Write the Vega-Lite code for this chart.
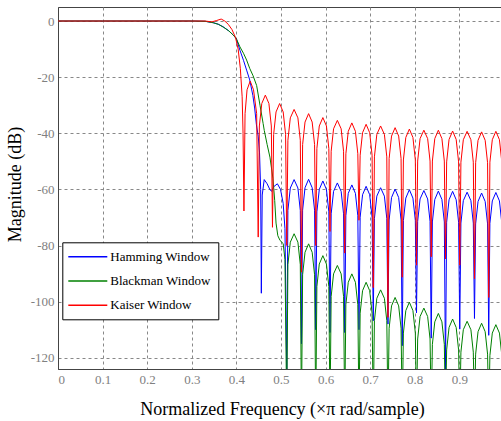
{
  "$schema": "https://vega.github.io/schema/vega-lite/v6.json",
  "width": 443,
  "height": 362,
  "autosize": {"type": "none"},
  "padding": {"left": 58, "top": 7, "right": 0, "bottom": 52},
  "config": {
    "view": {"stroke": "#444", "strokeWidth": 1},
    "font": "Liberation Serif",
    "axis": {
      "grid": true, "gridColor": "#888", "gridDash": [3, 3], "gridWidth": 1,
      "domainColor": "#444", "ticks": false,
      "labelColor": "#808080", "labelFont": "Liberation Serif", "labelFontSize": 13,
      "titleFont": "Liberation Serif", "titleFontSize": 18, "titleFontWeight": "normal", "titleColor": "#000"
    }
  },
  "datasets": {
    "hamming": [
      {"f":0,"db":0},{"f":0.1,"db":0},{"f":0.2,"db":0},{"f":0.3,"db":0},{"f":0.33,"db":-0.1},{"f":0.348,"db":-0.6},{"f":0.359,"db":-1.1},{"f":0.37,"db":-2},{"f":0.383,"db":-3.5},{"f":0.393,"db":-5},{"f":0.4,"db":-6.3},{"f":0.408,"db":-10.4},{"f":0.416,"db":-14},{"f":0.423,"db":-17.5},{"f":0.43,"db":-21},{"f":0.437,"db":-26.5},{"f":0.441,"db":-31},{"f":0.445,"db":-37},{"f":0.449,"db":-41},{"f":0.452,"db":-47},{"f":0.4545,"db":-60},{"f":0.456,"db":-97},
      {"f":0.458,"db":-62},{"f":0.4625,"db":-56.5},{"f":0.469,"db":-58},{"f":0.475,"db":-60},{"f":0.479,"db":-60.7},{"f":0.484,"db":-59},{"f":0.492,"db":-58},{"f":0.499,"db":-60},{"f":0.505,"db":-65},{"f":0.509,"db":-74},{"f":0.513,"db":-125},
      {"f":0.5156,"db":-67.5},{"f":0.521,"db":-59.5},{"f":0.5295,"db":-56.5},{"f":0.538,"db":-59.5},{"f":0.5434,"db":-67.5},{"f":0.546,"db":-115},
      {"f":0.5486,"db":-67.4},{"f":0.554,"db":-59.4},{"f":0.562,"db":-56.4},{"f":0.57,"db":-59.4},{"f":0.5754,"db":-67.4},{"f":0.578,"db":-110},
      {"f":0.5806,"db":-68},{"f":0.586,"db":-60},{"f":0.594,"db":-57},{"f":0.602,"db":-60},{"f":0.6074,"db":-68},{"f":0.61,"db":-111},
      {"f":0.6126,"db":-68.7},{"f":0.618,"db":-60.7},{"f":0.6265,"db":-57.7},{"f":0.635,"db":-60.7},{"f":0.6404,"db":-68.7},{"f":0.643,"db":-111},
      {"f":0.6456,"db":-69.4},{"f":0.651,"db":-61.4},{"f":0.659,"db":-58.4},{"f":0.667,"db":-61.4},{"f":0.6724,"db":-69.4},{"f":0.675,"db":-110},
      {"f":0.6776,"db":-69.9},{"f":0.683,"db":-61.9},{"f":0.691,"db":-58.9},{"f":0.699,"db":-61.9},{"f":0.7044,"db":-69.9},{"f":0.707,"db":-106.8},
      {"f":0.7096,"db":-70.4},{"f":0.715,"db":-62.4},{"f":0.7235,"db":-59.4},{"f":0.732,"db":-62.4},{"f":0.7374,"db":-70.4},{"f":0.74,"db":-108},
      {"f":0.7426,"db":-70.9},{"f":0.748,"db":-62.9},{"f":0.756,"db":-59.9},{"f":0.764,"db":-62.9},{"f":0.7694,"db":-70.9},{"f":0.772,"db":-115.7},
      {"f":0.7746,"db":-71.1},{"f":0.78,"db":-63.1},{"f":0.788,"db":-60.1},{"f":0.796,"db":-63.1},{"f":0.8014,"db":-71.1},{"f":0.804,"db":-104},
      {"f":0.8066,"db":-71.4},{"f":0.812,"db":-63.4},{"f":0.8205,"db":-60.4},{"f":0.829,"db":-63.4},{"f":0.8344,"db":-71.4},{"f":0.837,"db":-113},
      {"f":0.8396,"db":-71.6},{"f":0.845,"db":-63.6},{"f":0.853,"db":-60.6},{"f":0.861,"db":-63.6},{"f":0.8664,"db":-71.6},{"f":0.869,"db":-125},
      {"f":0.8716,"db":-71.7},{"f":0.877,"db":-63.7},{"f":0.885,"db":-60.7},{"f":0.893,"db":-63.7},{"f":0.8984,"db":-71.7},{"f":0.901,"db":-109.8},
      {"f":0.9036,"db":-72},{"f":0.909,"db":-64},{"f":0.9175,"db":-61},{"f":0.926,"db":-64},{"f":0.9314,"db":-72},{"f":0.934,"db":-106},
      {"f":0.9366,"db":-72.3},{"f":0.942,"db":-64.3},{"f":0.95,"db":-61.3},{"f":0.958,"db":-64.3},{"f":0.9634,"db":-72.3},{"f":0.966,"db":-112},
      {"f":0.9686,"db":-72.1},{"f":0.974,"db":-64.1},{"f":0.982,"db":-61.1},{"f":0.99,"db":-64.1},{"f":0.9954,"db":-72.1},{"f":0.998,"db":-110}
    ],
    "blackman": [
      {"f":0,"db":0},{"f":0.1,"db":0},{"f":0.2,"db":0},{"f":0.3,"db":0},{"f":0.33,"db":-0.1},{"f":0.348,"db":-0.6},{"f":0.36,"db":-1.2},{"f":0.372,"db":-2.3},{"f":0.383,"db":-3.5},{"f":0.393,"db":-5},{"f":0.4,"db":-6.3},{"f":0.408,"db":-9.2},{"f":0.416,"db":-11.5},{"f":0.423,"db":-13.9},{"f":0.43,"db":-16.9},{"f":0.4375,"db":-19.5},{"f":0.4455,"db":-23},{"f":0.453,"db":-30},{"f":0.46,"db":-36.5},{"f":0.4626,"db":-39},{"f":0.469,"db":-44},{"f":0.4753,"db":-48.5},{"f":0.482,"db":-56},{"f":0.486,"db":-64},{"f":0.489,"db":-72},{"f":0.493,"db":-76.5},{"f":0.498,"db":-78.2},{"f":0.505,"db":-79.3},{"f":0.509,"db":-85},{"f":0.513,"db":-140},
      {"f":0.5156,"db":-86.8},{"f":0.521,"db":-78.8},{"f":0.5295,"db":-75.8},{"f":0.538,"db":-78.8},{"f":0.5434,"db":-86.8},{"f":0.546,"db":-140},
      {"f":0.5486,"db":-90.4},{"f":0.554,"db":-82.4},{"f":0.562,"db":-79.4},{"f":0.57,"db":-82.4},{"f":0.5754,"db":-90.4},{"f":0.578,"db":-140},
      {"f":0.5806,"db":-94.6},{"f":0.586,"db":-86.6},{"f":0.594,"db":-83.6},{"f":0.602,"db":-86.6},{"f":0.6074,"db":-94.6},{"f":0.61,"db":-140},
      {"f":0.6126,"db":-98.1},{"f":0.618,"db":-90.1},{"f":0.6265,"db":-87.1},{"f":0.635,"db":-90.1},{"f":0.6404,"db":-98.1},{"f":0.643,"db":-140},
      {"f":0.6456,"db":-101.1},{"f":0.651,"db":-93.1},{"f":0.659,"db":-90.1},{"f":0.667,"db":-93.1},{"f":0.6724,"db":-101.1},{"f":0.675,"db":-140},
      {"f":0.6776,"db":-104.1},{"f":0.683,"db":-96.1},{"f":0.691,"db":-93.1},{"f":0.699,"db":-96.1},{"f":0.7044,"db":-104.1},{"f":0.707,"db":-140},
      {"f":0.7096,"db":-106.8},{"f":0.715,"db":-98.8},{"f":0.7235,"db":-95.8},{"f":0.732,"db":-98.8},{"f":0.7374,"db":-106.8},{"f":0.74,"db":-140},
      {"f":0.7426,"db":-109.5},{"f":0.748,"db":-101.5},{"f":0.756,"db":-98.5},{"f":0.764,"db":-101.5},{"f":0.7694,"db":-109.5},{"f":0.772,"db":-140},
      {"f":0.7746,"db":-111.2},{"f":0.78,"db":-103.2},{"f":0.788,"db":-100.2},{"f":0.796,"db":-103.2},{"f":0.8014,"db":-111.2},{"f":0.804,"db":-140},
      {"f":0.8066,"db":-113.3},{"f":0.812,"db":-105.3},{"f":0.8205,"db":-102.3},{"f":0.829,"db":-105.3},{"f":0.8344,"db":-113.3},{"f":0.837,"db":-140},
      {"f":0.8396,"db":-115.2},{"f":0.845,"db":-107.2},{"f":0.853,"db":-104.2},{"f":0.861,"db":-107.2},{"f":0.8664,"db":-115.2},{"f":0.869,"db":-140},
      {"f":0.8716,"db":-117.2},{"f":0.877,"db":-109.2},{"f":0.885,"db":-106.2},{"f":0.893,"db":-109.2},{"f":0.8984,"db":-117.2},{"f":0.901,"db":-140},
      {"f":0.9036,"db":-118},{"f":0.909,"db":-110},{"f":0.9175,"db":-107},{"f":0.926,"db":-110},{"f":0.9314,"db":-118},{"f":0.934,"db":-140},
      {"f":0.9366,"db":-118.7},{"f":0.942,"db":-110.7},{"f":0.95,"db":-107.7},{"f":0.958,"db":-110.7},{"f":0.9634,"db":-118.7},{"f":0.966,"db":-140},
      {"f":0.9686,"db":-119.2},{"f":0.974,"db":-111.2},{"f":0.982,"db":-108.2},{"f":0.99,"db":-111.2},{"f":0.9954,"db":-119.2},{"f":0.998,"db":-140}
    ],
    "kaiser": [
      {"f":0,"db":0},{"f":0.1,"db":0},{"f":0.2,"db":0},{"f":0.3,"db":0},{"f":0.33,"db":0},{"f":0.345,"db":-0.3},{"f":0.356,"db":0.2},{"f":0.366,"db":0.7},{"f":0.374,"db":0},{"f":0.382,"db":-1.2},{"f":0.39,"db":-3},{"f":0.398,"db":-5.8},{"f":0.404,"db":-10},{"f":0.409,"db":-17},{"f":0.413,"db":-27},{"f":0.415,"db":-40},{"f":0.417,"db":-67.7},
      {"f":0.4195,"db":-33},{"f":0.424,"db":-24.5},{"f":0.431,"db":-21.4},{"f":0.4385,"db":-24.5},{"f":0.4455,"db":-33},{"f":0.449,"db":-77},
      {"f":0.4516,"db":-37.4},{"f":0.457,"db":-29.4},{"f":0.465,"db":-26.4},{"f":0.473,"db":-29.4},{"f":0.4784,"db":-37.4},{"f":0.481,"db":-73.5},
      {"f":0.4836,"db":-40.4},{"f":0.489,"db":-32.4},{"f":0.497,"db":-29.4},{"f":0.505,"db":-32.4},{"f":0.5104,"db":-40.4},{"f":0.513,"db":-80},
      {"f":0.5156,"db":-42.5},{"f":0.521,"db":-34.5},{"f":0.5295,"db":-31.5},{"f":0.538,"db":-34.5},{"f":0.5434,"db":-42.5},{"f":0.546,"db":-89.5},
      {"f":0.5486,"db":-44},{"f":0.554,"db":-36},{"f":0.562,"db":-33},{"f":0.57,"db":-36},{"f":0.5754,"db":-44},{"f":0.578,"db":-80},
      {"f":0.5806,"db":-45.4},{"f":0.586,"db":-37.4},{"f":0.594,"db":-34.4},{"f":0.602,"db":-37.4},{"f":0.6074,"db":-45.4},{"f":0.61,"db":-75},
      {"f":0.6126,"db":-46.4},{"f":0.618,"db":-38.4},{"f":0.6265,"db":-35.4},{"f":0.635,"db":-38.4},{"f":0.6404,"db":-46.4},{"f":0.643,"db":-82.7},
      {"f":0.6456,"db":-47.3},{"f":0.651,"db":-39.3},{"f":0.659,"db":-36.3},{"f":0.667,"db":-39.3},{"f":0.6724,"db":-47.3},{"f":0.675,"db":-71},
      {"f":0.6776,"db":-47.8},{"f":0.683,"db":-39.8},{"f":0.691,"db":-36.8},{"f":0.699,"db":-39.8},{"f":0.7044,"db":-47.8},{"f":0.707,"db":-95},
      {"f":0.7096,"db":-48.4},{"f":0.715,"db":-40.4},{"f":0.7235,"db":-37.4},{"f":0.732,"db":-40.4},{"f":0.7374,"db":-48.4},{"f":0.74,"db":-105.6},
      {"f":0.7426,"db":-49},{"f":0.748,"db":-41},{"f":0.756,"db":-38},{"f":0.764,"db":-41},{"f":0.7694,"db":-49},{"f":0.772,"db":-91.3},
      {"f":0.7746,"db":-49.5},{"f":0.78,"db":-41.5},{"f":0.788,"db":-38.5},{"f":0.796,"db":-41.5},{"f":0.8014,"db":-49.5},{"f":0.804,"db":-87},
      {"f":0.8066,"db":-49.9},{"f":0.812,"db":-41.9},{"f":0.8205,"db":-38.9},{"f":0.829,"db":-41.9},{"f":0.8344,"db":-49.9},{"f":0.837,"db":-84},
      {"f":0.8396,"db":-49.9},{"f":0.845,"db":-41.9},{"f":0.853,"db":-38.9},{"f":0.861,"db":-41.9},{"f":0.8664,"db":-49.9},{"f":0.869,"db":-84.8},
      {"f":0.8716,"db":-50.2},{"f":0.877,"db":-42.2},{"f":0.885,"db":-39.2},{"f":0.893,"db":-42.2},{"f":0.8984,"db":-50.2},{"f":0.901,"db":-87},
      {"f":0.9036,"db":-50.3},{"f":0.909,"db":-42.3},{"f":0.9175,"db":-39.3},{"f":0.926,"db":-42.3},{"f":0.9314,"db":-50.3},{"f":0.934,"db":-91.8},
      {"f":0.9366,"db":-50.5},{"f":0.942,"db":-42.5},{"f":0.95,"db":-39.5},{"f":0.958,"db":-42.5},{"f":0.9634,"db":-50.5},{"f":0.966,"db":-98.5},
      {"f":0.9686,"db":-50.3},{"f":0.974,"db":-42.3},{"f":0.982,"db":-39.3},{"f":0.99,"db":-42.3},{"f":0.9954,"db":-50.3},{"f":0.998,"db":-100}
    ]
  },
  "encoding": {
    "x": {
      "field": "f", "type": "quantitative",
      "scale": {"domain": [0, 0.9935], "nice": false, "zero": false},
      "axis": {"values": [0, 0.1, 0.2, 0.3, 0.4, 0.5, 0.6, 0.7, 0.8, 0.9], "format": ".1~f", "labelPadding": 4,
               "labelFont": "Liberation Serif", "titleFont": "Liberation Serif",
               "title": "Normalized Frequency (\u00d7\u03c0 rad/sample)", "titleX": 224, "titleY": 40, "titleBaseline": "middle"}
    },
    "y": {
      "field": "db", "type": "quantitative",
      "scale": {"domain": [-124, 5], "nice": false, "zero": false},
      "axis": {"values": [-120, -100, -80, -60, -40, -20, 0], "labelExpr": "'' + datum.value", "labelPadding": 4,
               "labelFont": "Liberation Serif", "titleFont": "Liberation Serif",
               "title": "Magnitude (dB)", "titleX": -43, "titleY": 177, "titleBaseline": "middle", "titleAlign": "center"}
    }
  },
  "layer": [
    {
      "data": {"name": "hamming"},
      "mark": {"type": "line", "strokeWidth": 1, "clip": true},
      "encoding": {
        "color": {
          "datum": "Hamming Window", "type": "nominal",
          "scale": {"domain": ["Hamming Window", "Blackman Window", "Kaiser Window"], "range": ["#0000ff", "#008000", "#ff0000"]},
          "legend": {
            "orient": "none", "legendX": 4.3, "legendY": 235.3, "title": null,
            "symbolType": "M-3,0H3", "symbolSize": 169, "symbolStrokeWidth": 1.5, "symbolOffset": 11,
            "labelOffset": 15, "padding": 7, "rowPadding": 9.2,
            "fillColor": "white", "strokeColor": "black",
            "labelFontSize": 13, "labelFont": "Liberation Serif", "labelColor": "black"
          }
        }
      }
    },
    {
      "data": {"name": "blackman"},
      "mark": {"type": "line", "strokeWidth": 1, "clip": true},
      "encoding": {"color": {"datum": "Blackman Window", "type": "nominal"}}
    },
    {
      "data": {"name": "kaiser"},
      "mark": {"type": "line", "strokeWidth": 1, "clip": true},
      "encoding": {"color": {"datum": "Kaiser Window", "type": "nominal"}}
    }
  ]
}
